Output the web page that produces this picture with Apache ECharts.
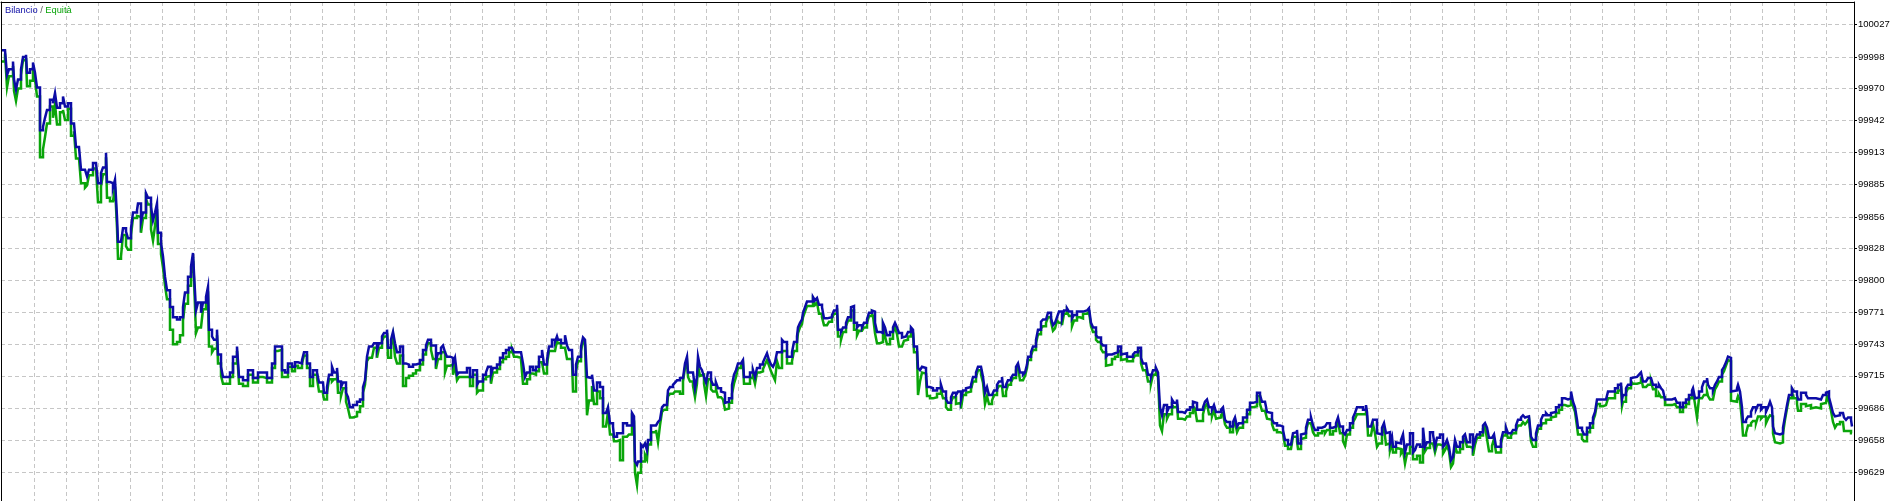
<!DOCTYPE html>
<html><head><meta charset="utf-8">
<script src="https://cdn.jsdelivr.net/npm/echarts@6/dist/echarts.min.js"></script>
<style>html,body{margin:0;padding:0;background:#fff;overflow:hidden}#c{width:1893px;height:501px}</style>
</head><body><div id="c"></div>
<script>
// Trade number (x), closed balance, floating P/L (equity - balance)
const tradeNo = [
2,5,7,9,13,14,16,18,21,23,26,27,30,33,35,37,39,40,43,45,
47,50,53,55,57,60,63,65,68,71,74,76,79,81,85,87,89,93,96,98,
101,103,106,107,110,113,115,117,118,121,123,126,128,131,133,137,138,141,143,146,
148,151,153,155,157,158,161,163,165,167,170,173,177,180,183,185,188,191,193,194,
196,198,201,203,206,208,209,212,214,217,218,221,223,230,233,237,239,243,248,253,
258,263,267,272,275,278,282,285,288,292,295,298,302,304,307,310,313,317,319,323,
324,327,329,332,334,337,338,341,343,346,348,350,353,357,360,363,365,367,369,372,
374,377,379,382,384,387,388,391,393,395,397,400,403,406,409,413,416,420,423,426,
428,431,433,436,438,441,443,445,447,450,453,455,457,459,463,465,467,470,473,477,
479,483,486,488,491,493,497,500,503,506,509,512,514,517,521,523,525,527,530,533,
536,539,542,544,547,549,552,555,557,558,561,563,565,567,569,572,573,576,578,581,
583,585,587,589,592,594,597,600,603,606,608,610,613,614,617,620,623,627,629,632,
634,635,637,638,641,643,645,647,648,651,653,656,658,660,662,664,667,668,670,673,
675,677,680,683,685,687,688,690,693,695,697,698,700,702,704,706,708,711,713,716,
718,721,723,725,727,729,732,734,736,738,741,743,744,747,750,753,755,757,760,763,
765,767,769,771,773,775,777,779,782,784,787,789,792,794,797,798,800,802,803,805,
807,810,813,815,817,819,822,824,827,829,832,834,837,838,841,843,846,848,851,853,
854,857,859,862,864,867,869,872,873,875,877,880,883,885,887,890,893,895,897,899,
902,904,906,908,911,913,914,917,918,920,922,924,926,927,930,933,937,941,943,946,
948,951,953,956,958,961,963,966,968,971,973,976,978,981,983,985,987,989,992,994,
997,999,1002,1003,1006,1008,1011,1013,1016,1018,1020,1023,1025,1027,1028,1031,1033,1036,1038,1041,
1043,1046,1048,1051,1053,1055,1057,1059,1062,1064,1067,1069,1072,1074,1077,1080,1083,1087,1089,1091,
1093,1096,1098,1101,1103,1106,1108,1112,1115,1118,1121,1123,1127,1129,1133,1135,1138,1141,1143,1146,
1148,1151,1153,1156,1158,1160,1162,1164,1167,1169,1172,1174,1177,1178,1182,1185,1187,1190,1193,1195,
1197,1200,1203,1205,1207,1209,1212,1214,1216,1218,1221,1223,1225,1227,1230,1233,1235,1237,1239,1243,
1247,1250,1253,1257,1260,1262,1265,1267,1269,1272,1274,1277,1280,1283,1285,1288,1291,1293,1295,1297,
1298,1301,1303,1306,1308,1311,1313,1315,1318,1322,1325,1327,1330,1333,1336,1338,1340,1343,1345,1347,
1350,1353,1355,1357,1360,1363,1366,1367,1368,1371,1373,1375,1377,1379,1382,1384,1386,1388,1390,1392,
1393,1396,1398,1401,1403,1405,1407,1410,1413,1415,1417,1420,1423,1425,1427,1430,1433,1435,1437,1440,
1443,1445,1447,1449,1451,1453,1455,1457,1460,1463,1465,1467,1470,1473,1475,1477,1480,1483,1485,1487,
1489,1492,1494,1496,1498,1501,1503,1506,1508,1511,1513,1516,1518,1521,1523,1525,1527,1529,1531,1533,
1536,1538,1541,1543,1546,1548,1551,1553,1556,1559,1562,1565,1568,1571,1573,1575,1577,1578,1582,1584,
1587,1590,1593,1595,1597,1600,1603,1606,1608,1612,1615,1618,1621,1622,1623,1626,1628,1631,1633,1637,
1639,1641,1643,1646,1648,1651,1653,1656,1659,1661,1663,1665,1668,1672,1675,1677,1680,1683,1686,1689,
1692,1693,1695,1697,1699,1702,1704,1707,1708,1710,1713,1715,1717,1719,1722,1724,1726,1728,1730,1731,
1733,1737,1738,1740,1742,1743,1746,1748,1751,1753,1756,1758,1761,1763,1766,1768,1770,1772,1773,1775,
1777,1780,1783,1785,1787,1789,1792,1794,1797,1798,1801,1803,1806,1808,1811,1813,1816,1818,1821,1823,
1826,1827,1829,1831,1833,1835,1837,1840,1843,1844,1846,1848,1851,1852
];
const balance = [
100004,100005,99982,99987,99994,99978,99969,99978,99987,99998,100000,99984,99987,99993,99984,99971,99971,99933,99936,99944,
99951,99960,99957,99966,99953,99957,99963,99954,99957,99939,99938,99918,99917,99898,99898,99892,99898,99904,99905,99886,
99895,99900,99913,99887,99886,99882,99889,99856,99834,99833,99846,99843,99837,99846,99860,99862,99868,99852,99860,99877,
99873,99865,99853,99860,99868,99842,99833,99821,99803,99791,99776,99767,99765,99767,99776,99789,99803,99812,99824,99806,
99773,99780,99771,99780,99785,99794,99756,99750,99747,99756,99734,99723,99714,99718,99732,99741,99714,99711,99720,99713,
99718,99718,99713,99726,99741,99741,99720,99718,99726,99723,99727,99726,99729,99736,99726,99714,99720,99718,99709,99709,
99700,99705,99716,99723,99718,99722,99710,99705,99709,99700,99696,99687,99689,99692,99694,99705,99711,99732,99741,99740,
99744,99738,99744,99750,99753,99756,99740,99747,99754,99744,99736,99741,99726,99725,99723,99725,99726,99729,99738,99742,
99747,99742,99742,99729,99735,99740,99742,99736,99732,99731,99726,99731,99716,99718,99718,99718,99722,99714,99720,99707,
99710,99716,99718,99723,99716,99722,99725,99731,99735,99738,99740,99741,99736,99736,99735,99726,99714,99718,99723,99720,
99723,99732,99738,99725,99729,99741,99747,99745,99750,99747,99744,99744,99751,99742,99738,99738,99716,99725,99732,99741,
99749,99747,99714,99713,99716,99702,99709,99705,99682,99682,99687,99673,99670,99661,99664,99664,99673,99671,99671,99682,
99679,99639,99636,99639,99654,99652,99655,99649,99658,99671,99671,99671,99674,99676,99687,99689,99691,99702,99705,99707,
99709,99711,99713,99714,99726,99732,99718,99718,99718,99704,99714,99732,99723,99720,99714,99709,99718,99711,99707,99709,
99704,99701,99700,99691,99692,99695,99707,99716,99720,99726,99727,99729,99714,99714,99718,99720,99714,99722,99725,99727,
99731,99735,99729,99725,99723,99727,99736,99736,99747,99745,99732,99732,99736,99745,99750,99758,99762,99765,99771,99776,
99781,99781,99785,99782,99784,99778,99776,99766,99765,99767,99769,99773,99778,99756,99754,99758,99762,99767,99776,99777,
99762,99758,99760,99758,99762,99765,99771,99773,99772,99762,99754,99753,99762,99758,99751,99754,99758,99762,99758,99753,
99749,99750,99751,99754,99758,99756,99741,99740,99722,99720,99723,99722,99718,99705,99704,99702,99704,99707,99701,99694,
99691,99696,99700,99698,99701,99694,99702,99704,99705,99707,99714,99718,99723,99723,99714,99700,99705,99698,99698,99702,
99707,99710,99714,99705,99707,99711,99713,99716,99723,99726,99718,99716,99718,99725,99732,99736,99741,99747,99756,99763,
99765,99766,99771,99766,99760,99762,99767,99772,99766,99773,99775,99772,99766,99769,99772,99772,99773,99774,99775,99762,
99758,99751,99749,99744,99742,99732,99734,99735,99736,99741,99734,99735,99732,99732,99734,99736,99740,99731,99726,99725,
99716,99714,99720,99722,99718,99687,99680,99689,99683,99687,99694,99691,99694,99683,99682,99683,99685,99687,99692,99691,
99685,99685,99687,99692,99694,99687,99685,99689,99683,99683,99685,99687,99676,99674,99670,99674,99678,99670,99673,99678,
99685,99691,99692,99700,99698,99692,99691,99683,99682,99676,99673,99671,99670,99667,99658,99654,99655,99664,99665,99667,
99655,99663,99664,99669,99676,99678,99671,99667,99669,99670,99669,99673,99669,99670,99673,99678,99670,99665,99663,99667,
99673,99678,99682,99687,99687,99685,99689,99683,99670,99669,99676,99676,99664,99663,99669,99673,99664,99665,99655,99661,
99652,99656,99655,99658,99663,99647,99654,99664,99647,99649,99654,99652,99669,99652,99656,99665,99663,99652,99660,99663,
99652,99654,99658,99652,99640,99643,99658,99652,99656,99661,99663,99656,99663,99652,99658,99663,99665,99671,99673,99669,
99660,99661,99663,99652,99652,99658,99665,99669,99664,99665,99667,99671,99676,99678,99680,99678,99679,99680,99661,99658,
99664,99671,99676,99680,99682,99680,99682,99683,99687,99689,99695,99694,99695,99701,99692,99687,99676,99669,99667,99663,
99669,99673,99678,99683,99694,99694,99694,99694,99701,99701,99704,99707,99709,99694,99698,99704,99707,99713,99714,99714,
99716,99718,99710,99711,99713,99714,99707,99705,99707,99704,99702,99694,99694,99695,99694,99691,99687,99691,99694,99698,
99702,99704,99695,99696,99701,99705,99710,99713,99707,99704,99702,99707,99710,99714,99720,99723,99727,99732,99731,99701,
99702,99704,99707,99701,99687,99674,99676,99679,99683,99687,99685,99689,99685,99687,99683,99687,99692,99687,99670,99664,
99663,99664,99669,99679,99689,99698,99704,99701,99698,99694,99700,99700,99698,99695,99694,99695,99696,99694,99695,99698,
99700,99701,99696,99689,99682,99679,99680,99682,99683,99678,99676,99678,99676,99670
];
const floatingPL = [
-10,-4,-11,-6,-4,-10,-10,-8,-5,-3,-3,-12,-10,-4,-6,-8,-8,-24,-20,-17,
-12,-6,-13,-10,-15,-8,-12,-12,-5,-11,-6,-10,-8,-12,-16,-8,-5,-5,-6,-17,
-12,-6,-4,-14,-16,-12,-6,-10,-15,-12,-6,-13,-10,-6,-5,-5,-12,-10,-5,-5,
-6,-20,-18,-12,-5,-10,-10,-10,-8,-8,-20,-24,-20,-16,-12,-10,-8,-6,-4,-6,
-20,-22,-12,-6,-6,-4,-15,-14,-8,-5,-8,-8,-6,-4,-6,-4,-6,-5,-4,-4,
-4,-5,-4,-4,-4,-3,-6,-4,-3,-4,-3,-4,-3,-3,-4,-8,-4,-5,-8,-10,
-6,-5,-4,-13,-6,-4,-10,-8,-5,-8,-10,-9,-10,-9,-6,-5,-4,-4,-10,-8,
-4,-7,-4,-4,-3,-3,-9,-5,-3,-12,-10,-8,-20,-12,-8,-8,-6,-4,-4,-4,
-3,-4,-12,-8,-5,-4,-6,-18,-8,-6,-10,-6,-5,-4,-4,-4,-8,-8,-4,-7,
-8,-4,-4,-8,-8,-4,-4,-4,-5,-6,-4,-3,-4,-5,-6,-18,-6,-6,-6,-4,
-4,-5,-10,-8,-4,-4,-10,-8,-4,-3,-4,-4,-12,-12,-8,-10,-15,-6,-4,-4,
-3,-4,-34,-20,-10,-12,-8,-10,-12,-12,-4,-10,-8,-4,-6,-24,-12,-10,-8,-4,
-4,-10,-18,-10,-15,-13,-10,-8,-4,-6,-6,-4,-18,-5,-4,-4,-4,-5,-6,-7,
-8,-10,-14,-4,-4,-4,-4,-8,-12,-8,-6,-8,-8,-4,-6,-12,-6,-8,-6,-6,
-8,-6,-6,-6,-6,-4,-8,-8,-6,-4,-3,-3,-6,-6,-5,-5,-6,-4,-6,-6,
-6,-6,-5,-6,-8,-16,-8,-14,-10,-8,-6,-6,-8,-8,-5,-5,-4,-4,-4,-4,
-4,-4,-3,-4,-4,-8,-9,-6,-4,-4,-3,-3,-3,-6,-7,-4,-3,-3,-3,-4,
-6,-7,-5,-4,-4,-3,-3,-3,-4,-9,-10,-8,-4,-8,-8,-6,-4,-4,-6,-12,
-8,-4,-4,-4,-3,-3,-5,-5,-24,-10,-5,-5,-5,-8,-9,-6,-5,-5,-6,-7,
-6,-4,-4,-8,-10,-8,-4,-4,-4,-4,-4,-4,-3,-7,-5,-10,-8,-8,-5,-4,
-4,-4,-9,-8,-6,-4,-4,-3,-3,-3,-7,-6,-3,-3,-3,-3,-3,-3,-4,-6,
-6,-4,-4,-3,-5,-5,-3,-10,-6,-3,-3,-4,-7,-5,-5,-6,-3,-3,-3,-3,
-4,-4,-4,-5,-6,-8,-9,-5,-4,-4,-5,-5,-4,-4,-4,-3,-3,-5,-6,-6,
-6,-6,-4,-4,-4,-16,-14,-8,-6,-6,-5,-4,-4,-6,-6,-6,-6,-5,-4,-5,
-10,-10,-6,-4,-4,-6,-6,-4,-6,-5,-5,-5,-4,-5,-5,-4,-4,-5,-4,-4,
-4,-4,-4,-3,-8,-8,-6,-6,-6,-4,-6,-6,-6,-4,-5,-4,-4,-3,-4,-10,
-5,-4,-4,-3,-3,-4,-6,-5,-5,-4,-5,-6,-6,-4,-4,-3,-6,-8,-10,-4,
-4,-4,-5,-6,-6,-4,-4,-4,-8,-8,-4,-12,-12,-8,-5,-4,-10,-10,-6,-5,
-5,-5,-5,-12,-14,-10,-8,-12,-6,-8,-10,-14,-10,-4,-5,-10,-8,-5,-6,-10,
-6,-5,-5,-4,-6,-6,-5,-5,-6,-4,-4,-4,-12,-8,-4,-3,-3,-3,-3,-10,
-12,-8,-4,-5,-5,-3,-3,-4,-4,-3,-3,-4,-5,-6,-6,-6,-5,-3,-4,-6,
-4,-3,-5,-7,-6,-4,-4,-4,-5,-4,-6,-6,-6,-4,-4,-4,-6,-6,-8,-6,
-4,-4,-3,-3,-4,-6,-5,-6,-6,-6,-4,-5,-3,-6,-6,-4,-3,-3,-6,-7,
-7,-4,-5,-7,-6,-4,-4,-8,-8,-8,-6,-5,-5,-5,-5,-4,-4,-4,-4,-3,
-3,-3,-5,-18,-6,-10,-12,-12,-10,-10,-8,-4,-4,-4,-4,-4,-3,-3,-3,-8,
-10,-10,-10,-8,-12,-12,-12,-8,-10,-12,-12,-10,-8,-8,-10,-10,-12,-8,-6,-8,
-8,-8,-5,-3,-3,-3,-4,-6,-8,-10,-10,-10,-10,-6,-8,-8,-8,-8,-5,-7,
-8,-4,-4,-5,-8,-10,-8,-8,-10,-12,-10,-12,-12,-6
];
// Right-axis tick labels
const yTickLabels = [100027, 99998, 99970, 99942, 99913, 99885, 99856, 99828, 99800, 99771, 99743, 99715, 99686, 99658, 99629];
const yMin = 99603.9, yMax = 100046.8;
const xMin = 1, xMax = 1854;
// Vertical grid ticks (trade numbers)
const xGridTicks = [34.5,66.5,98.5,130.5,162.5,194.5,226.5,258.5,290.5,322.5,354.5,386.5,418.5,450.5,482.5,514.5,546.5,578.5,610.5,642.5,674.5,706.5,738.5,770.5,802.5,834.5,866.5,898.5,930.5,962.5,994.5,1026.5,1058.5,1090.5,1122.5,1154.5,1186.5,1218.5,1250.5,1282.5,1314.5,1346.5,1378.5,1410.5,1442.5,1474.5,1506.5,1538.5,1570.5,1602.5,1634.5,1666.5,1698.5,1730.5,1762.5,1794.5,1826.5];
const seriesNames = ['Bilancio', 'Equità'];

const n = Math.min(tradeNo.length, balance.length, floatingPL.length);
const balData = [], eqData = [];
for (let i = 0; i < n; i++) {
  balData.push([tradeNo[i], balance[i]]);
  eqData.push([tradeNo[i], balance[i] + floatingPL[i]]);
}

const BLUE = '#0c0ca6', GREEN = '#0aa50a', GRID = '#c6c6c6';
const FONT = "'Liberation Sans', Arial, sans-serif";
const chart = echarts.init(document.getElementById('c'), null, {renderer: 'canvas'});
chart.setOption({
  animation: false,
  backgroundColor: '#ffffff',
  title: {
    left: 5, top: 6, padding: 0,
    text: '{b|' + seriesNames[0] + '} {s|/} {g|' + seriesNames[1] + '}',
    textStyle: {
      fontSize: 9.3, fontFamily: FONT, fontWeight: 'normal',
      rich: {
        b: {color: BLUE, fontSize: 9.3, fontFamily: FONT},
        s: {color: '#555', fontSize: 9.3, fontFamily: FONT},
        g: {color: GREEN, fontSize: 9.3, fontFamily: FONT}
      }
    }
  },
  grid: {left: 1, right: 39, top: 2, bottom: 0, containLabel: false},
  xAxis: {
    type: 'value', position: 'top', min: xMin, max: xMax,
    axisLine: {show: true, lineStyle: {color: '#000', width: 1}},
    axisTick: {show: false, customValues: xGridTicks},
    axisLabel: {show: false, customValues: xGridTicks},
    splitLine: {show: true, lineStyle: {color: GRID, width: 1, type: [4, 3]}}
  },
  yAxis: [{
    type: 'value', position: 'right', min: yMin, max: yMax,
    axisLine: {show: true, lineStyle: {color: '#000', width: 1}},
    axisTick: {show: true, length: 3, customValues: yTickLabels, lineStyle: {color: '#000'}},
    axisLabel: {show: true, customValues: yTickLabels, color: '#000', fontSize: 9.5, fontFamily: FONT, margin: 4,
      formatter: v => String(Math.round(v))},
    splitLine: {show: true, lineStyle: {color: GRID, width: 1, type: [4, 3]}}
  }, {
    type: 'value', position: 'left', min: yMin, max: yMax,
    axisLine: {show: true, onZero: false, lineStyle: {color: '#000', width: 1}},
    axisTick: {show: false}, axisLabel: {show: false}, splitLine: {show: false}
  }],
  series: [
    {name: seriesNames[1], type: 'line', step: 'end', data: eqData, showSymbol: false, symbol: 'none',
      lineStyle: {color: GREEN, width: 2.5, join: 'miter'}, itemStyle: {color: GREEN}, z: 2},
    {name: seriesNames[0], type: 'line', step: 'end', data: balData, showSymbol: false, symbol: 'none',
      lineStyle: {color: BLUE, width: 2.5, join: 'miter'}, itemStyle: {color: BLUE}, z: 3}
  ]
});
</script>
</body></html>
